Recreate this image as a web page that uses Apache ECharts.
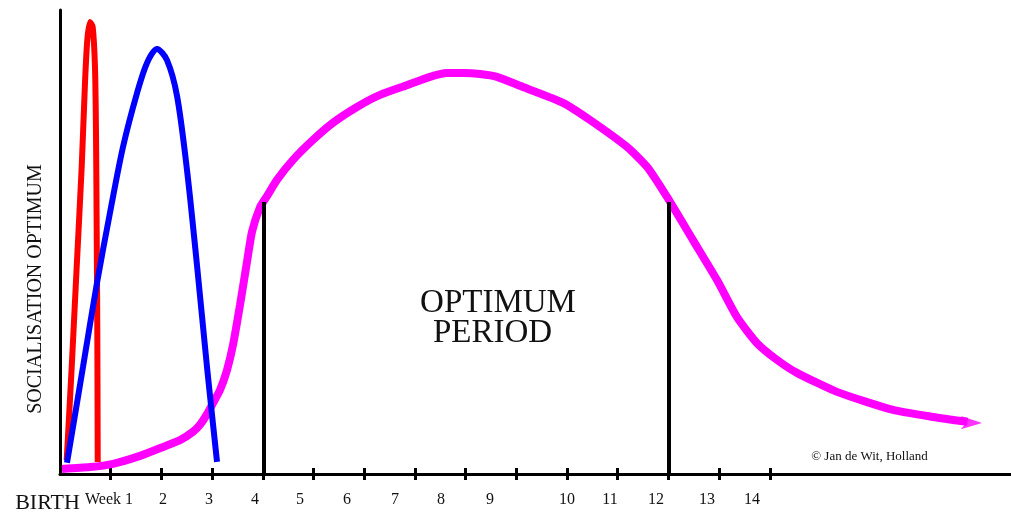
<!DOCTYPE html>
<html>
<head>
<meta charset="utf-8">
<script src="https://cdn.jsdelivr.net/npm/echarts@6/dist/echarts.min.js"></script>
<style>
html,body{margin:0;padding:0;background:#fff;}
#chart{width:1011px;height:515px;}
</style>
</head>
<body>
<div id="chart"></div>
<script>
// x in weeks after birth, y = relative socialisation level (0-100)
const redCurve = [
  [0.132, 3.0], [0.231, 23.1], [0.329, 44.6], [0.428, 66.2], [0.493, 84.3],
  [0.538, 93.5], [0.592, 97.4], [0.645, 96.3], [0.690, 87.7], [0.710, 73.5],
  [0.724, 51.9], [0.736, 30.4], [0.744, 2.6]
];
const blueCurve = [
  [0.138, 2.4], [0.454, 23.1], [0.730, 41.2], [0.986, 56.3], [1.243, 70.5],
  [1.519, 82.1], [1.716, 88.6], [1.913, 91.6], [2.110, 89.2], [2.308, 81.5],
  [2.505, 65.5], [2.702, 45.0], [2.899, 23.1], [3.097, 2.6]
];
const magentaCurve = [
  [0.039, 1.1], [0.592, 1.5], [1.045, 2.2], [1.578, 3.9], [2.071, 6.0],
  [2.367, 7.3], [2.623, 9.1], [2.761, 10.6], [2.899, 12.9], [3.018, 15.3],
  [3.156, 18.1], [3.294, 22.4], [3.412, 27.8], [3.550, 36.4], [3.688, 45.7],
  [3.787, 52.2], [3.945, 57.5], [4.083, 59.9], [4.280, 63.4], [4.596, 67.7],
  [4.990, 72.0], [5.385, 75.7], [5.858, 79.1], [6.312, 81.7], [6.844, 83.8],
  [7.298, 85.6], [7.633, 86.4], [7.949, 86.4], [8.284, 86.2], [8.619, 85.6],
  [9.132, 83.4], [9.921, 80.0], [10.454, 76.3], [11.183, 70.5], [11.578, 66.2],
  [11.972, 59.7], [12.485, 50.4], [12.959, 41.8], [13.353, 33.8], [13.748, 28.2],
  [14.142, 24.6], [14.536, 21.8], [15.325, 17.7], [16.430, 13.8], [17.219, 12.3],
  [17.900, 11.25]
];
const arrowTip = [18.185, 11.0];
const periodBounds = [4.02, 12.01];
const periodTop = 58.6;
const tickWeeks = [1, 2, 3, 4, 5, 6, 7, 8, 9, 10, 11, 12, 13, 14];
const tickLabels = ['Week 1', '2', '3', '4', '5', '6', '7', '8', '9', '10', '11', '12', '13', '14'];
const tickLabelPos = [0.966, 2.032, 2.939, 3.846, 4.734, 5.661, 6.607, 7.515, 8.481, 10.0, 10.848, 11.755, 12.761, 13.649];

const serif = '"Liberation Serif", "DejaVu Serif", serif';
const X_MAX = 18.757;

const chart = echarts.init(document.getElementById('chart'), null, {renderer: 'canvas'});

const option = {
  backgroundColor: '#ffffff',
  animation: false,
  grid: {left: 60, right: 0, top: 10, bottom: 41, containLabel: false},
  xAxis: [{
    type: 'value', min: 0, max: X_MAX, position: 'bottom',
    splitLine: {show: false},
    axisLine: {show: true, onZero: false, lineStyle: {color: '#000', width: 3}},
    axisTick: {show: true, inside: false, length: 6, customValues: tickWeeks,
               lineStyle: {color: '#000', width: 3}},
    axisLabel: {
      show: true, customValues: tickLabelPos, margin: 26, verticalAlign: 'middle',
      color: '#111', fontFamily: serif, fontSize: 16,
      formatter: function (v) {
        for (let i = 0; i < tickLabelPos.length; i++) {
          if (Math.abs(tickLabelPos[i] - v) < 1e-6) return tickLabels[i];
        }
        return '';
      }
    }
  }, {
    type: 'value', min: 0, max: X_MAX, position: 'bottom', offset: 0,
    splitLine: {show: false},
    axisLine: {show: false, onZero: false},
    axisTick: {show: true, inside: true, length: 6, customValues: tickWeeks,
               lineStyle: {color: '#000', width: 3}},
    axisLabel: {show: false}
  }],
  yAxis: {
    type: 'value', min: 0, max: 100,
    splitLine: {show: false},
    axisLine: {show: true, onZero: false, lineStyle: {color: '#000', width: 3}},
    axisTick: {show: false},
    axisLabel: {show: false}
  },
  series: [
    {
      name: 'magenta', type: 'line', data: magentaCurve, smooth: 0.2,
      symbol: 'none', clip: false, z: 2,
      lineStyle: {color: '#ff00ff', width: 8}
    },
    {
      name: 'arrowhead', type: 'scatter', data: [arrowTip], clip: false, z: 2,
      symbol: 'arrow', symbolSize: [10, 21], symbolRotate: -91,
      itemStyle: {color: '#ff00ff'}, silent: true
    },
    {
      name: 'red', type: 'line', data: redCurve, smooth: 0.25,
      symbol: 'none', clip: false, z: 3,
      lineStyle: {color: '#ff0000', width: 6}
    },
    {
      name: 'blue', type: 'line', data: blueCurve, smooth: 0.3,
      symbol: 'none', clip: false, z: 4,
      lineStyle: {color: '#0000ff', width: 6}
    },
    {
      name: 'period', type: 'line', data: [], z: 5,
      markLine: {
        silent: true, symbol: 'none', animation: false,
        label: {show: false},
        lineStyle: {color: '#000', width: 4, type: 'solid'},
        data: periodBounds.map(b => [{coord: [b, 0]}, {coord: [b, periodTop]}])
      }
    }
  ],
  graphic: [
    {type: 'text', x: 35.5, y: 289, rotation: Math.PI / 2, scaleX: 0.91, z: 10,
     style: {text: 'SOCIALISATION OPTIMUM', font: '22px ' + serif, fill: '#111',
             align: 'center', verticalAlign: 'middle'}},
    {type: 'text', x: 498, y: 303, z: 10,
     style: {text: 'OPTIMUM', font: '33px ' + serif, fill: '#111',
             align: 'center', verticalAlign: 'middle'}},
    {type: 'text', x: 492.5, y: 333, z: 10,
     style: {text: 'PERIOD', font: '33px ' + serif, fill: '#111',
             align: 'center', verticalAlign: 'middle'}},
    {type: 'text', x: 47.5, y: 503, z: 10,
     style: {text: 'BIRTH', font: '22px ' + serif, fill: '#111',
             align: 'center', verticalAlign: 'middle'}},
    {type: 'text', x: 869.5, y: 457, z: 10,
     style: {text: '\u00A9 Jan de Wit, Holland', font: '13px ' + serif, fill: '#111',
             align: 'center', verticalAlign: 'middle'}}
  ]
};
chart.setOption(option);
</script>
</body>
</html>
